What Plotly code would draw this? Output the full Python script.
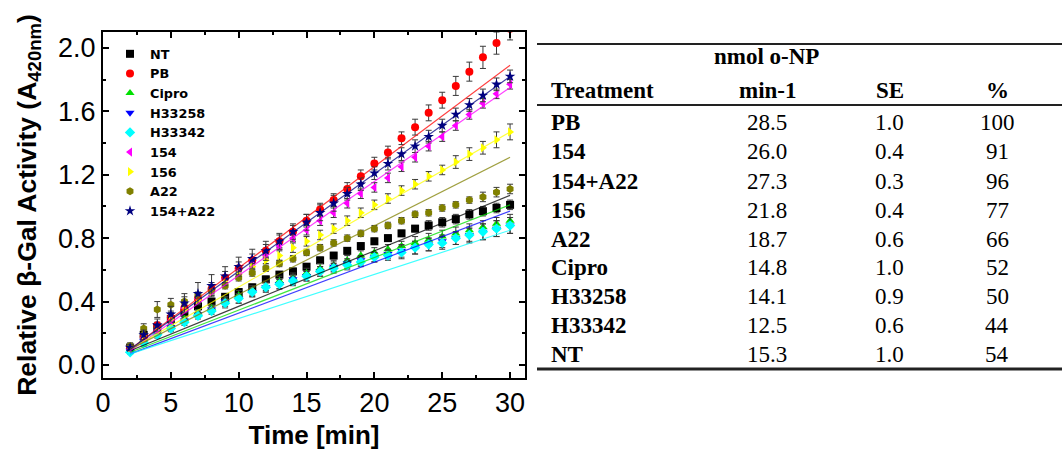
import plotly.graph_objects as go

W, H = 1062, 450

# Sampling times (min)
time_min = [2, 3, 4, 5, 6, 7, 8, 9, 10, 11, 12, 13, 14, 15, 16,
            17, 18, 19, 20, 21, 22, 23, 24, 25, 26, 27, 28, 29, 30]

# Relative beta-Gal activity (A420nm) per treatment
nt = [0.11, 0.19, 0.24, 0.29, 0.33, 0.37, 0.40, 0.43, 0.46, 0.49, 0.54, 0.57, 0.59, 0.62, 0.66,
      0.69, 0.72, 0.75, 0.78, 0.80, 0.83, 0.86, 0.88, 0.90, 0.92, 0.95, 0.97, 0.99, 1.01]
pb = [0.11, 0.18, 0.25, 0.30, 0.36, 0.42, 0.48, 0.55, 0.61, 0.66, 0.72, 0.78, 0.84, 0.91, 0.98,
      1.04, 1.11, 1.19, 1.27, 1.34, 1.43, 1.50, 1.59, 1.67, 1.76, 1.85, 1.94, 2.03, 2.12]
cipro = [0.09, 0.16, 0.21, 0.25, 0.29, 0.33, 0.36, 0.41, 0.44, 0.47, 0.50, 0.53, 0.55, 0.58, 0.61,
         0.63, 0.66, 0.69, 0.71, 0.73, 0.75, 0.77, 0.79, 0.81, 0.83, 0.85, 0.87, 0.89, 0.91]
h33258 = [0.09, 0.15, 0.20, 0.24, 0.28, 0.32, 0.35, 0.40, 0.42, 0.46, 0.49, 0.51, 0.54, 0.56, 0.59,
          0.62, 0.64, 0.66, 0.68, 0.70, 0.72, 0.74, 0.76, 0.78, 0.80, 0.82, 0.84, 0.86, 0.88]
h33342 = [0.08, 0.14, 0.19, 0.23, 0.27, 0.31, 0.34, 0.39, 0.42, 0.46, 0.49, 0.51, 0.53, 0.56, 0.59,
          0.61, 0.63, 0.65, 0.68, 0.69, 0.71, 0.74, 0.76, 0.77, 0.80, 0.82, 0.84, 0.86, 0.88]
c154 = [0.10, 0.17, 0.22, 0.28, 0.36, 0.42, 0.48, 0.54, 0.60, 0.65, 0.69, 0.75, 0.80, 0.85, 0.91,
        0.96, 1.02, 1.08, 1.12, 1.18, 1.25, 1.31, 1.38, 1.44, 1.51, 1.58, 1.65, 1.71, 1.77]
c156 = [0.11, 0.18, 0.23, 0.29, 0.35, 0.41, 0.46, 0.52, 0.57, 0.62, 0.66, 0.69, 0.74, 0.78, 0.82,
        0.86, 0.91, 0.96, 1.01, 1.05, 1.10, 1.14, 1.19, 1.23, 1.28, 1.33, 1.37, 1.42, 1.47]
a22 = [0.12, 0.23, 0.35, 0.38, 0.40, 0.44, 0.47, 0.50, 0.55, 0.58, 0.61, 0.64, 0.67, 0.71, 0.74,
       0.77, 0.80, 0.83, 0.86, 0.88, 0.91, 0.95, 0.96, 0.99, 1.01, 1.04, 1.06, 1.09, 1.11]
c154_a22 = [0.11, 0.19, 0.25, 0.32, 0.39, 0.45, 0.50, 0.56, 0.62, 0.67, 0.72, 0.78, 0.84, 0.90, 0.96,
            1.02, 1.08, 1.14, 1.21, 1.27, 1.33, 1.38, 1.44, 1.51, 1.58, 1.64, 1.70, 1.77, 1.82]

# Standard errors
nt_err = [0.01, 0.02, 0.02, 0.02, 0.02, 0.02, 0.02, 0.02, 0.02, 0.02, 0.02, 0.02, 0.02, 0.02, 0.02,
          0.02, 0.02, 0.02, 0.02, 0.02, 0.02, 0.02, 0.03, 0.03, 0.03, 0.03, 0.03, 0.03, 0.03]
pb_err = [0.02, 0.02, 0.02, 0.03, 0.03, 0.03, 0.04, 0.04, 0.04, 0.04, 0.04, 0.04, 0.04, 0.04, 0.04,
          0.04, 0.04, 0.04, 0.04, 0.04, 0.04, 0.05, 0.05, 0.05, 0.06, 0.06, 0.07, 0.07, 0.07]
cipro_err = [0.01, 0.02, 0.02, 0.02, 0.02, 0.02, 0.02, 0.02, 0.03, 0.03, 0.03, 0.03, 0.03, 0.03, 0.03,
             0.03, 0.03, 0.03, 0.03, 0.03, 0.03, 0.04, 0.04, 0.04, 0.04, 0.04, 0.04, 0.04, 0.04]
h33258_err = [0.01, 0.02, 0.02, 0.02, 0.02, 0.02, 0.02, 0.03, 0.03, 0.03, 0.03, 0.03, 0.03, 0.03, 0.03,
              0.03, 0.03, 0.03, 0.03, 0.03, 0.04, 0.04, 0.04, 0.04, 0.04, 0.04, 0.05, 0.05, 0.05]
h33342_err = [0.01, 0.02, 0.02, 0.02, 0.02, 0.02, 0.02, 0.03, 0.03, 0.03, 0.03, 0.03, 0.03, 0.03, 0.03,
              0.03, 0.03, 0.03, 0.03, 0.03, 0.04, 0.04, 0.04, 0.04, 0.04, 0.05, 0.05, 0.05, 0.05]
c154_err = [0.01, 0.02, 0.02, 0.02, 0.02, 0.02, 0.02, 0.02, 0.02, 0.02, 0.02, 0.02, 0.02, 0.03, 0.03,
            0.03, 0.03, 0.03, 0.03, 0.03, 0.03, 0.03, 0.03, 0.03, 0.03, 0.03, 0.03, 0.03, 0.03]
c156_err = [0.01, 0.02, 0.02, 0.02, 0.02, 0.02, 0.02, 0.02, 0.02, 0.02, 0.02, 0.03, 0.03, 0.03, 0.03,
            0.03, 0.03, 0.03, 0.03, 0.03, 0.03, 0.03, 0.03, 0.03, 0.04, 0.04, 0.04, 0.05, 0.05]
a22_err = [0.02, 0.03, 0.05, 0.04, 0.03, 0.02, 0.02, 0.02, 0.02, 0.02, 0.02, 0.02, 0.02, 0.02, 0.02,
           0.02, 0.02, 0.02, 0.02, 0.02, 0.02, 0.02, 0.02, 0.02, 0.02, 0.02, 0.03, 0.03, 0.03]
c154_a22_err = [0.02, 0.03, 0.04, 0.05, 0.06, 0.07, 0.07, 0.06, 0.06, 0.06, 0.06, 0.05, 0.05, 0.05, 0.05,
                0.05, 0.04, 0.04, 0.04, 0.04, 0.04, 0.04, 0.04, 0.04, 0.04, 0.04, 0.04, 0.04, 0.04]

# Linear fits: value at start (2 min) and end (30 min)
fit_x = [2, 30]
nt_fit = [0.09, 1.07]
pb_fit = [0.10, 1.89]
cipro_fit = [0.08, 1.01]
h33258_fit = [0.07, 0.97]
h33342_fit = [0.07, 0.85]
c154_fit = [0.09, 1.75]
c156_fit = [0.10, 1.47]
a22_fit = [0.10, 1.31]
c154_a22_fit = [0.10, 1.82]

# Summary table
treatments = ["PB", "154", "154+A22", "156", "A22", "Cipro", "H33258", "H33342", "NT"]
rates = ["28.5", "26.0", "27.3", "21.8", "18.7", "14.8", "14.1", "12.5", "15.3"]
rate_se = ["1.0", "0.4", "0.3", "0.4", "0.6", "1.0", "0.9", "0.6", "1.0"]
percent = ["100", "91", "96", "77", "66", "52", "50", "44", "54"]

series = [
    ("NT", nt, nt_err, nt_fit, "#000000", "square"),
    ("PB", pb, pb_err, pb_fit, "#ff0000", "circle"),
    ("Cipro", cipro, cipro_err, cipro_fit, "#00e000", "triangle-up"),
    ("H33258", h33258, h33258_err, h33258_fit, "#0000ff", "triangle-down"),
    ("H33342", h33342, h33342_err, h33342_fit, "#00ffff", "diamond"),
    ("154", c154, c154_err, c154_fit, "#ff00ff", "triangle-left"),
    ("156", c156, c156_err, c156_fit, "#ffff00", "triangle-right"),
    ("A22", a22, a22_err, a22_fit, "#808000", "hexagon"),
    ("154+A22", c154_a22, c154_a22_err, c154_a22_fit, "#000080", "star"),
]

fig = go.Figure()

for name, ys, errs, fit, color, symbol in series:
    fig.add_trace(go.Scatter(
        x=time_min, y=ys, name=name, mode="markers",
        marker=dict(symbol=symbol, size=8, color=color, line=dict(width=0)),
        error_y=dict(type="data", array=errs, visible=True, color="#3a3a3a",
                     thickness=1, width=3),
    ))

for name, ys, errs, fit, color, symbol in series:
    fig.add_trace(go.Scatter(
        x=fit_x, y=fit, mode="lines", showlegend=False, hoverinfo="skip",
        line=dict(color=color, width=1.2), opacity=0.75,
    ))


def px(x):
    return x / W


def py(y):
    return 1 - y / H


axis_common = dict(
    showline=True, linecolor="black", linewidth=2, mirror="ticks",
    ticks="inside", ticklen=6, tickwidth=1.5, tickcolor="black",
    showgrid=False, zeroline=False, automargin=False,
    tickfont=dict(family="Liberation Sans, Arial, sans-serif", size=27, color="black"),
)

fig.update_layout(
    width=W, height=H, autosize=False,
    margin=dict(l=0, r=0, t=0, b=0),
    paper_bgcolor="white", plot_bgcolor="white",
    xaxis=dict(
        domain=[px(103), px(525)], range=[0, 31.1], tick0=0, dtick=5,
        minor=dict(ticks="inside", ticklen=3, dtick=2.5, tickcolor="black"),
        title=dict(text="Time [min]", standoff=8,
                   font=dict(family="Liberation Sans, Arial, sans-serif", size=26,
                             color="black", weight="bold")),
        **axis_common,
    ),
    yaxis=dict(
        domain=[py(378), py(32)], range=[-0.082, 2.1], tick0=0, dtick=0.4,
        tickformat=".1f",
        minor=dict(ticks="inside", ticklen=3, dtick=0.2, tickcolor="black"),
        title=dict(text="Relative β-Gal Activity (A<sub>420nm</sub>)", standoff=14,
                   font=dict(family="Liberation Sans, Arial, sans-serif", size=26.5,
                             color="black", weight="bold")),
        **axis_common,
    ),
    legend=dict(
        x=px(110), y=py(39), xanchor="left", yanchor="top",
        bgcolor="rgba(0,0,0,0)", borderwidth=0,
        font=dict(family="DejaVu Sans, sans-serif", size=12.8, color="black", weight="bold"),
        itemsizing="trace",
    ),
)

# Table rules
serif = "Liberation Serif, Times New Roman, serif"
for yline, lw in [(44, 2), (105, 2), (369, 3)]:
    fig.add_shape(type="line", xref="paper", yref="paper",
                  x0=px(537), x1=1.0, y0=py(yline), y1=py(yline),
                  line=dict(color="#222222", width=lw))

# Table header
fig.add_annotation(x=px(766), y=py(56), text="<b>nmol o-NP</b>", showarrow=False,
                   xref="paper", yref="paper", xanchor="center", yanchor="middle",
                   font=dict(family=serif, size=23, color="black"))
header_cells = [("<b>Treatment</b>", 549, "left"), ("<b>min-1</b>", 768, "center"),
                ("<b>SE</b>", 890, "center"), ("<b>%</b>", 997, "center")]
for text, xpos, anchor in header_cells:
    fig.add_annotation(x=px(xpos), y=py(91), text=text, showarrow=False,
                       xref="paper", yref="paper", xanchor=anchor, yanchor="middle",
                       font=dict(family=serif, size=23, color="black"))

# Table body
row_y = [123, 152, 181, 210, 239, 267, 296, 325, 354]
for i, yrow in enumerate(row_y):
    cells = [("<b>" + treatments[i] + "</b>", 549, "left"), (rates[i], 767, "center"),
             (rate_se[i], 889, "center"), (percent[i], 997, "center")]
    for text, xpos, anchor in cells:
        fig.add_annotation(x=px(xpos), y=py(yrow), text=text, showarrow=False,
                           xref="paper", yref="paper", xanchor=anchor, yanchor="middle",
                           font=dict(family=serif, size=23, color="black"))

fig.write_html("out.html")
